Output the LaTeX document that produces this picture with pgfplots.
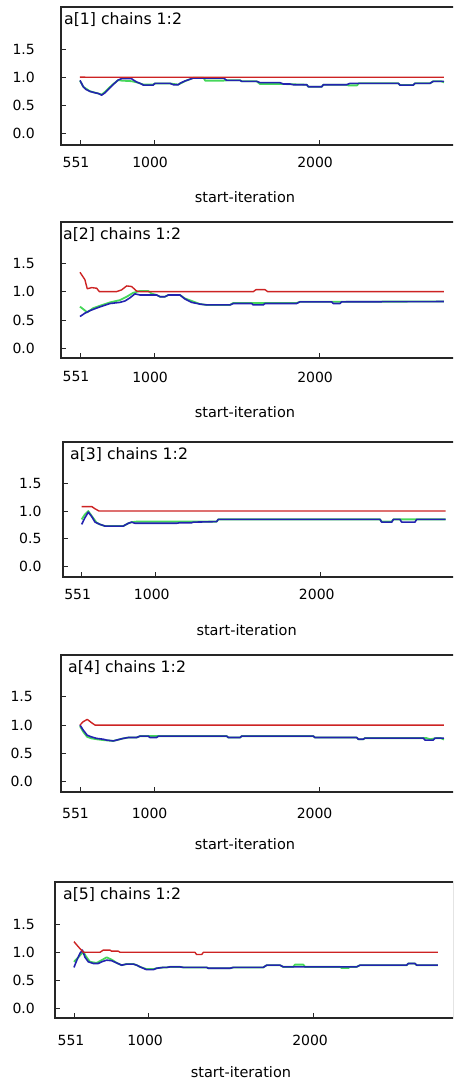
\documentclass[border=0pt]{standalone}
\usepackage{fontspec}
\setmainfont{DejaVu Sans}
\usepackage{pgfplots}
\pgfplotsset{compat=1.18}

\definecolor{bgrred}{RGB}{205,35,35}
\definecolor{bgrblue}{RGB}{35,35,175}
\definecolor{bgrgreen}{RGB}{70,215,90}

% shared look of the five Brooks-Gelman-Rubin panels
\pgfplotsset{
  bgrbase/.style={
    scale only axis, width=399pt, anchor=south west,
    xmin=436, xmax=2854,
    axis line style={draw=black!85, line width=1.6pt},
    xtick={551,1000,2000}, xticklabels={551,1000,2000},
    ytick={0,0.5,1,1.5},
    yticklabel style={/pgf/number format/fixed, /pgf/number format/fixed zerofill,
      /pgf/number format/precision=1},
    /pgf/number format/assume math mode=true,
    tick align=inside, xtick pos=left, ytick pos=left,
    major tick length=5pt,
    tick style={draw=black!85, line width=0.9pt},
    tick label style={font=\fontsize{14}{14}\selectfont},
    xlabel={start-iteration},
    label style={font=\fontsize{14.5}{14.5}\selectfont},
    clip=true,
  },
  gline/.style={color=bgrgreen, line width=1.8pt, line join=round},
  bline/.style={color=bgrblue, line width=1.6pt, line join=round},
  rline/.style={color=bgrred, line width=1.4pt, line join=round},
}
\newcommand{\ptitle}[2]{\node[anchor=west, inner sep=0pt, xshift=#1, yshift=-13pt,
  font=\fontsize{15.7}{15.7}\selectfont] at (rel axis cs:0,1) {#2};}

\begin{document}
\begin{tikzpicture}[x=1pt,y=1pt]
\useasboundingbox (0,0) rectangle (453,1082);
\clip (0,0) rectangle (453,1082);

% ---------------- a[1]
\begin{axis}[bgrbase, at={(61pt,937pt)}, height=138pt, ymin=-0.209, ymax=2.255,
  yticklabel style={anchor=east, inner sep=0pt, xshift=-26pt},
  xticklabel style={anchor=center, inner sep=0pt, yshift=-17.5pt, xshift=-4pt},
  xlabel style={at={(axis description cs:0.461,-0.377)}, anchor=center, inner sep=0pt}]
\addplot[gline] coordinates {(551,0.94)(571,0.83)(612,0.75)(662,0.71)(682,0.69)(703,0.74)(723,0.80)(753,0.88)(783,0.95)(804,0.94)(864,0.93)(894,0.91)(935,0.87)(995,0.87)(1006,0.89)(1096,0.89)(1117,0.88)(1147,0.87)(1187,0.93)(1238,0.99)(1300,0.99)(1310,0.94)(1420,0.94)(1440,0.946)(1521,0.946)(1531,0.928)(1622,0.928)(1642,0.88)(1763,0.88)(1783,0.88)(1925,0.867)(1935,0.831)(2016,0.831)(2026,0.867)(2167,0.867)(2177,0.855)(2230,0.855)(2240,0.892)(2480,0.892)(2490,0.861)(2571,0.861)(2581,0.892)(2672,0.892)(2692,0.928)(2740,0.928)(2757,0.91)};
\addplot[bline] coordinates {(551,0.946)(571,0.831)(587,0.783)(612,0.747)(642,0.723)(662,0.711)(682,0.681)(703,0.723)(723,0.783)(753,0.873)(783,0.952)(804,0.976)(864,0.976)(874,0.952)(894,0.916)(915,0.892)(935,0.861)(995,0.861)(1006,0.892)(1096,0.892)(1117,0.867)(1147,0.867)(1157,0.892)(1187,0.934)(1218,0.964)(1238,0.988)(1420,0.988)(1440,0.946)(1521,0.946)(1531,0.928)(1622,0.928)(1642,0.904)(1763,0.904)(1783,0.880)(1824,0.880)(1844,0.867)(1925,0.867)(1935,0.831)(2016,0.831)(2026,0.867)(2167,0.867)(2187,0.892)(2480,0.892)(2490,0.861)(2571,0.861)(2581,0.892)(2672,0.892)(2692,0.928)(2757,0.928)};
\addplot[rline] coordinates {(551,1.004)(600,1.0)(1500,1.0)(2757,1.0)};
\ptitle{3pt}{a[1] chains 1:2}
\end{axis}

% ---------------- a[2]
\begin{axis}[bgrbase, at={(61pt,724pt)}, height=136pt, ymin=-0.171, ymax=2.228,
  yticklabel style={anchor=east, inner sep=0pt, xshift=-26pt},
  xticklabel style={anchor=center, inner sep=0pt, yshift=-19pt, xshift=-4pt},
  xlabel style={at={(axis description cs:0.461,-0.397)}, anchor=center, inner sep=0pt}]
\addplot[gline] coordinates {(551,0.735)(571,0.69)(595,0.635)(632,0.71)(672,0.75)(733,0.81)(793,0.85)(834,0.91)(874,0.98)(915,1.01)(965,1.01)(985,0.965)(1016,0.94)(1036,0.91)(1066,0.91)(1086,0.94)(1157,0.94)(1187,0.88)(1228,0.835)(1278,0.78)(1319,0.765)(1460,0.765)(1480,0.80)(1864,0.80)(1884,0.82)(2757,0.825)};
\addplot[bline] coordinates {(551,0.56)(581,0.62)(612,0.665)(652,0.71)(692,0.75)(733,0.79)(793,0.81)(824,0.835)(854,0.89)(884,0.96)(915,0.94)(1016,0.94)(1036,0.91)(1066,0.91)(1086,0.94)(1157,0.94)(1187,0.87)(1228,0.81)(1278,0.78)(1319,0.765)(1460,0.765)(1480,0.79)(1591,0.79)(1601,0.765)(1662,0.765)(1672,0.79)(1864,0.79)(1884,0.82)(2076,0.82)(2086,0.79)(2127,0.79)(2137,0.82)(2757,0.825)};
\addplot[rline] coordinates {(551,1.34)(581,1.21)(595,1.05)(622,1.07)(652,1.06)(668,1.0)(773,1.0)(803,1.03)(834,1.10)(864,1.09)(894,1.01)(915,1.0)(1602,1.0)(1618,1.035)(1672,1.035)(1688,1.0)(2757,1.0)};
\ptitle{2pt}{a[2] chains 1:2}
\end{axis}

% ---------------- a[3]
\begin{axis}[bgrbase, at={(62.7pt,505pt)}, height=135pt, ymin=-0.185, ymax=2.24,
  yticklabel style={anchor=east, inner sep=0pt, xshift=-21pt},
  xticklabel style={anchor=center, inner sep=0pt, yshift=-17.5pt, xshift=-4pt},
  xlabel style={at={(axis description cs:0.461,-0.393)}, anchor=center, inner sep=0pt}]
\addplot[gline] coordinates {(551,0.85)(571,0.94)(591,1.0)(612,0.91)(642,0.79)(662,0.76)(692,0.73)(803,0.73)(834,0.78)(854,0.80)(884,0.81)(1228,0.81)(1369,0.81)(1379,0.85)(2359,0.85)(2369,0.81)(2430,0.81)(2440,0.85)(2757,0.85)};
\addplot[bline] coordinates {(551,0.76)(571,0.88)(591,0.98)(612,0.90)(632,0.80)(662,0.76)(692,0.73)(803,0.73)(834,0.78)(854,0.80)(874,0.78)(1127,0.78)(1147,0.79)(1218,0.79)(1228,0.80)(1369,0.81)(1379,0.85)(2359,0.85)(2369,0.80)(2430,0.80)(2440,0.85)(2480,0.85)(2490,0.80)(2571,0.80)(2581,0.85)(2757,0.85)};
\addplot[rline] coordinates {(551,1.08)(612,1.08)(632,1.04)(656,1.0)(2757,1.0)};
\ptitle{7.3pt}{a[3] chains 1:2}
\end{axis}

% ---------------- a[4]
\begin{axis}[bgrbase, at={(61pt,290pt)}, height=137pt, ymin=-0.18, ymax=2.235,
  yticklabel style={anchor=east, inner sep=0pt, xshift=-28pt},
  xticklabel style={anchor=center, inner sep=0pt, yshift=-21.6pt, xshift=-4.5pt},
  xlabel style={at={(axis description cs:0.461,-0.380)}, anchor=center, inner sep=0pt}]
\addplot[gline] coordinates {(551,0.98)(571,0.88)(595,0.79)(622,0.765)(652,0.75)(692,0.735)(753,0.72)(773,0.735)(814,0.765)(844,0.78)(894,0.78)(915,0.805)(1440,0.805)(1450,0.78)(1521,0.78)(1531,0.805)(1965,0.805)(1975,0.78)(2228,0.78)(2238,0.75)(2268,0.75)(2278,0.77)(2652,0.77)(2672,0.75)(2712,0.77)(2737,0.77)(2757,0.745)};
\addplot[bline] coordinates {(551,1.0)(571,0.91)(595,0.82)(622,0.79)(652,0.765)(692,0.75)(712,0.735)(753,0.72)(773,0.735)(814,0.765)(844,0.78)(894,0.78)(915,0.805)(965,0.805)(975,0.78)(1016,0.78)(1026,0.805)(1440,0.805)(1450,0.78)(1521,0.78)(1531,0.805)(1965,0.805)(1975,0.78)(2228,0.78)(2238,0.75)(2268,0.75)(2278,0.77)(2632,0.77)(2642,0.735)(2692,0.735)(2702,0.77)(2757,0.77)};
\addplot[rline] coordinates {(551,1.0)(571,1.06)(595,1.10)(622,1.04)(642,1.0)(2757,1.0)};
\ptitle{7pt}{a[4] chains 1:2}
\end{axis}

% ---------------- a[5]
\begin{axis}[bgrbase, at={(55pt,64pt)}, height=136pt, ymin=-0.173, ymax=2.255,
  yticklabel style={anchor=east, inner sep=0pt, xshift=-20pt},
  xticklabel style={anchor=center, inner sep=0pt, yshift=-22pt, xshift=-3pt},
  xlabel style={at={(axis description cs:0.466,-0.397)}, anchor=center, inner sep=0pt}]
\addplot[gline] coordinates {(551,0.83)(577,0.91)(608,1.01)(623,0.93)(648,0.83)(688,0.81)(719,0.86)(749,0.91)(779,0.87)(810,0.81)(840,0.77)(870,0.79)(911,0.79)(931,0.77)(951,0.74)(991,0.70)(1032,0.70)(1052,0.715)(1092,0.73)(1113,0.73)(1133,0.74)(1193,0.74)(1214,0.73)(1355,0.73)(1365,0.715)(1496,0.715)(1517,0.73)(1698,0.73)(1719,0.77)(1799,0.77)(1819,0.74)(1880,0.74)(1890,0.78)(1941,0.78)(1951,0.74)(2163,0.74)(2173,0.72)(2214,0.72)(2224,0.74)(2264,0.74)(2284,0.77)(2567,0.77)(2577,0.80)(2617,0.80)(2628,0.77)(2757,0.77)};
\addplot[bline] coordinates {(551,0.73)(567,0.85)(587,0.98)(602,1.04)(618,0.91)(638,0.83)(668,0.80)(698,0.80)(719,0.83)(749,0.86)(779,0.85)(810,0.81)(840,0.77)(870,0.79)(911,0.79)(931,0.77)(951,0.74)(991,0.69)(1032,0.69)(1052,0.715)(1092,0.73)(1113,0.73)(1133,0.74)(1193,0.74)(1214,0.73)(1355,0.73)(1365,0.715)(1496,0.715)(1517,0.73)(1698,0.73)(1719,0.77)(1799,0.77)(1819,0.74)(2264,0.74)(2284,0.77)(2567,0.77)(2577,0.80)(2617,0.80)(2628,0.77)(2757,0.77)};
\addplot[rline] coordinates {(551,1.19)(577,1.10)(608,1.0)(709,1.0)(729,1.04)(769,1.04)(779,1.02)(820,1.02)(830,1.0)(1284,1.0)(1294,0.96)(1325,0.96)(1335,1.0)(2757,1.0)};
\ptitle{8pt}{a[5] chains 1:2}
\end{axis}
\end{tikzpicture}
\end{document}
